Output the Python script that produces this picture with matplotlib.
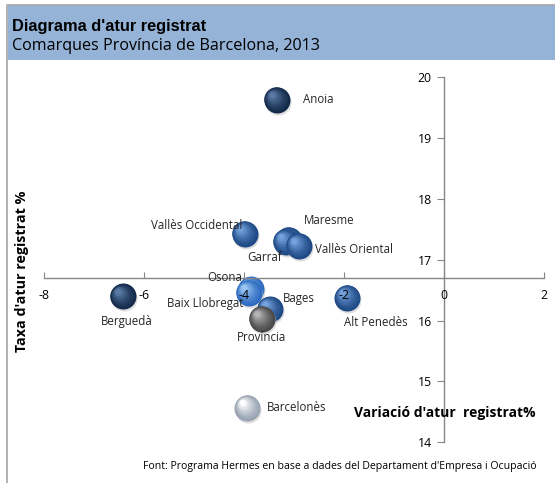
import numpy as np
import matplotlib.pyplot as plt
from matplotlib import transforms
from matplotlib.colors import to_rgb
from matplotlib.patches import Rectangle
from matplotlib.lines import Line2D

plt.rcParams["axes.unicode_minus"] = False

comarques = ["Anoia", "Vallès Occidental", "Maresme", "Garraf", "Vallès Oriental",
             "Osona", "Baix Llobregat", "Bages", "Província", "Berguedà",
             "Alt Penedès", "Barcelonès"]
variacio = [-3.35, -3.99, -3.11, -3.17, -2.91, -3.87, -3.91, -3.49, -3.65, -6.43, -1.94, -3.94]
taxa = [19.63, 17.43, 17.33, 17.30, 17.23, 16.52, 16.46, 16.19, 16.03, 16.40, 16.38, 14.57]

x_ticks = [-8, -6, -4, -2, 0, 2]
y_ticks = [14, 15, 16, 17, 18, 19, 20]

# colour of each bubble (base, highlight)
navy = ("#142a4a", "#5a7aa6")
blau = ("#1f4a86", "#74a2dc")
clar = ("#2d6cc0", "#9cc6f4")
gris = ("#4a4a4a", "#b4b4b4")
plata = ("#98a3b2", "#ffffff")
colors = {"Anoia": navy, "Berguedà": navy, "Osona": clar, "Baix Llobregat": clar,
          "Província": gris, "Barcelonès": plata}

# label offsets in pixels (dx, dy, ha)
offsets = {
    "Anoia": (26, 0, "left"),
    "Vallès Occidental": (-2, 8, "right"),
    "Maresme": (15, 19, "left"),
    "Garraf": (-4, -16, "right"),
    "Vallès Oriental": (16, -4, "left"),
    "Osona": (-9, 11, "right"),
    "Baix Llobregat": (-5, -11, "right"),
    "Bages": (13, 11, "left"),
    "Província": (0, -19, "center"),
    "Berguedà": (4, -25, "center"),
    "Alt Penedès": (29, -25, "center"),
    "Barcelonès": (20, 0, "left"),
}

W, H = 555, 483
fig = plt.figure(figsize=(W / 100, H / 100), dpi=100)
fig.patch.set_facecolor("white")

# header band and frame (left and top edges only)
fig.patches.append(Rectangle((7.5 / W, 1 - 60 / H), 1, 55 / H, transform=fig.transFigure,
                             facecolor="#95b3d7", edgecolor="none"))
fig.lines.append(Line2D([7 / W, 7 / W, 1], [0, 1 - 5 / H, 1 - 5 / H], transform=fig.transFigure,
                        color="#a6a6a6", lw=1.2))
fig.text(12 / W, 1 - 26 / H, "Diagrama d'atur registrat", fontsize=11.8, fontweight="bold",
         family="Liberation Sans", va="center")
fig.text(12 / W, 1 - 46 / H, "Comarques Província de Barcelona, 2013", fontsize=11.6,
         family="Open Sans", va="center")

ax = fig.add_axes([44.3 / W, 1 - 442.3 / H, 500 / W, 365 / H])
ax.set_xlim(-8, 2)
ax.set_ylim(14, 20)
ax.patch.set_alpha(0)
for s in ["top", "right"]:
    ax.spines[s].set_visible(False)
ax.spines["left"].set_position(("data", 0))
ax.spines["bottom"].set_position(("data", 16.7))
for s in ["left", "bottom"]:
    ax.spines[s].set_color("#868686")
    ax.spines[s].set_linewidth(1)
ax.set_xticks(x_ticks)
ax.set_yticks(y_ticks)
ax.tick_params(axis="x", direction="in", length=4, color="#868686", labelsize=8.8, pad=8)
ax.tick_params(axis="y", direction="out", length=5, color="#868686", labelsize=8.8, pad=4)
for lab in ax.get_xticklabels() + ax.get_yticklabels():
    lab.set_family("Open Sans")
ax.set_axisbelow(False)

D = 26  # bubble diameter in px
n = 14
order = ["Anoia", "Vallès Occidental", "Maresme", "Garraf", "Vallès Oriental", "Osona",
         "Baix Llobregat", "Bages", "Província", "Berguedà", "Alt Penedès", "Barcelonès"]
for name in order:
    i = comarques.index(name)
    base, hi = colors.get(name, blau)
    b, h = np.array(to_rgb(base)), np.array(to_rgb(hi))
    # soft shadow
    tr = transforms.offset_copy(ax.transData, fig=fig, x=1, y=-2, units="dots")
    ax.scatter([variacio[i]], [taxa[i]], s=(D * 0.72) ** 2, color="#c8c8c8", alpha=0.6,
               linewidths=0, transform=tr, zorder=1)
    for k in range(n):
        t = k / (n - 1)
        size = D * (1 - 0.8 * t)
        c = b + (h - b) * t ** 1.3
        tr = transforms.offset_copy(ax.transData, fig=fig, x=-0.2 * D * t, y=0.2 * D * t,
                                    units="dots")
        ax.scatter([variacio[i]], [taxa[i]], s=(size * 0.72) ** 2, color=c, linewidths=0,
                   transform=tr, zorder=1)
    dx, dy, ha = offsets[name]
    ax.annotate(name, (variacio[i], taxa[i]), xytext=(dx, dy), textcoords="offset pixels",
                ha=ha, va="center", fontsize=8.3, family="Open Sans", color="#262626",
                zorder=3)

fig.text(22 / W, 1 - 271 / H, "Taxa d'atur registrat %", rotation=90, fontsize=10.3,
         fontweight="bold", family="Open Sans", ha="center", va="center")
fig.text(445 / W, 1 - 413 / H, "Variació d'atur  registrat%", fontsize=10,
         fontweight="bold", family="Open Sans", ha="center", va="center")
fig.text(143 / W, 1 - 466 / H,
         "Font: Programa Hermes en base a dades del Departament d'Empresa i Ocupació",
         fontsize=7.6, family="Open Sans", va="center")

fig.savefig("out.png", dpi=100)
